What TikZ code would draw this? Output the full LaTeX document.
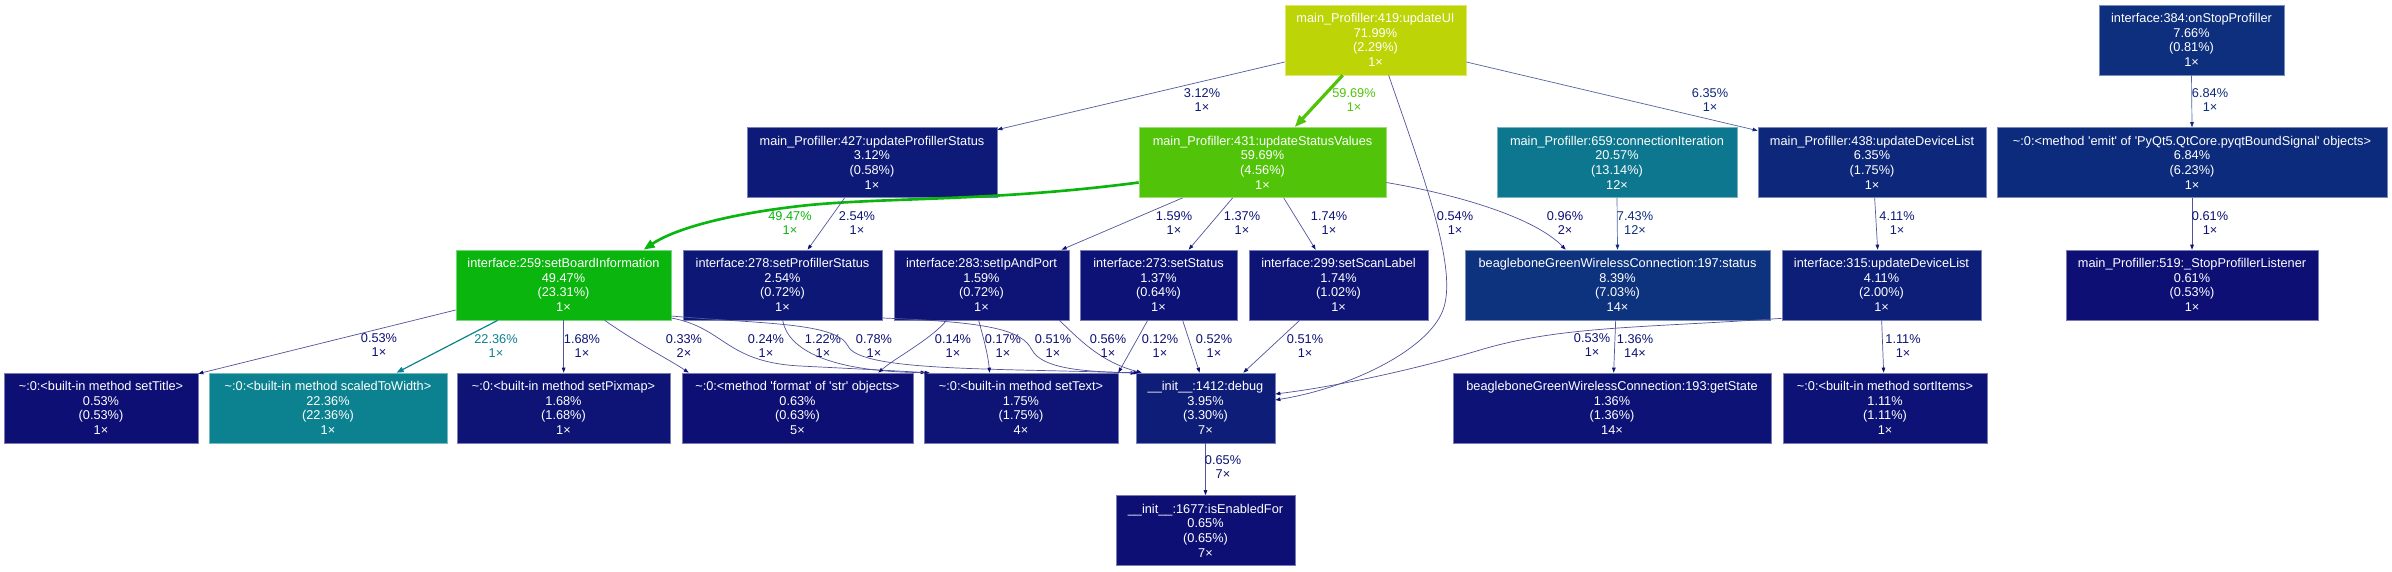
\documentclass[tikz,border=0pt]{standalone}
\usepackage{fontspec}
\setmainfont{Liberation Sans}
\usetikzlibrary{arrows.meta,calc}
\definecolor{cUI}{RGB}{189,213,6}
\definecolor{cSV}{RGB}{81,195,8}
\definecolor{cBI}{RGB}{10,181,13}
\definecolor{cSW}{RGB}{12,130,144}
\definecolor{cCI}{RGB}{12,119,142}
\definecolor{cST}{RGB}{13,50,126}
\definecolor{cOS}{RGB}{13,47,125}
\definecolor{cTA}{RGB}{13,45,125}
\definecolor{cEM}{RGB}{13,43,124}
\definecolor{cDL}{RGB}{13,40,123}
\definecolor{cFO}{RGB}{13,30,120}
\definecolor{cDB}{RGB}{13,29,120}
\definecolor{cTH}{RGB}{13,26,119}
\definecolor{cTF}{RGB}{13,24,118}
\definecolor{cSX}{RGB}{13,20,118}
\definecolor{cOT}{RGB}{13,19,118}
\definecolor{cSN}{RGB}{13,17,117}
\definecolor{cFV}{RGB}{13,15,117}
\newcommand{\gf}{\fontsize{12.75}{14.7}\selectfont}
\newcommand{\tl}{\textasciitilde}
\newcommand{\q}{\textquotesingle}
\begin{document}
\begin{tikzpicture}[x=1pt,y=-1pt,
  box/.style={rectangle, inner sep=0pt, minimum height=70pt, text=white, align=center, font=\gf, line width=0.7pt},
  nb/.style={box, fill=#1, draw=#1!55!white},
  lbl/.style={inner sep=0pt, align=center, font=\gf},
  thin/.style={line width=0.7pt, draw=#1!72!white, -{Triangle[length=5pt,width=3.6pt,color=#1]}},
  thick/.style={line width=#1, -{Triangle[length=12pt,width=9pt]}}]
\fill[white] (0,0) rectangle (2392,571);
\useasboundingbox (0,0) rectangle (2392,571);
% row 1
\node[nb=cUI, minimum width=181pt] (uUI) at (1375.5,40) {main\_Profiller:419:updateUI\\71.99\%\\(2.29\%)\\1×};
\node[nb=cOS, minimum width=185pt] (onStop) at (2191.5,40) {interface:384:onStopProfiller\\7.66\%\\(0.81\%)\\1×};
% row 2
\node[nb=cTH, minimum width=250pt] (uPS) at (872,162.5) {main\_Profiller:427:updateProfillerStatus\\3.12\%\\(0.58\%)\\1×};
\node[nb=cSV, minimum width=247pt] (uSV) at (1262.5,162.5) {main\_Profiller:431:updateStatusValues\\59.69\%\\(4.56\%)\\1×};
\node[nb=cCI, minimum width=240pt] (connIt) at (1617,162.5) {main\_Profiller:659:connectionIteration\\20.57\%\\(13.14\%)\\12×};
\node[nb=cDL, minimum width=228pt] (uDLa) at (1872,162.5) {main\_Profiller:438:updateDeviceList\\6.35\%\\(1.75\%)\\1×};
\node[nb=cEM, minimum width=390pt] (emit) at (2192,162.5) {\tl:0:<method \q emit\q{} of \q PyQt5.QtCore.pyqtBoundSignal\q{} objects>\\6.84\%\\(6.23\%)\\1×};
% row 3
\node[nb=cBI, minimum width=215pt] (sBI) at (563.5,285) {interface:259:setBoardInformation\\49.47\%\\(23.31\%)\\1×};
\node[nb=cTF, minimum width=199pt] (sPS) at (782.5,285) {interface:278:setProfillerStatus\\2.54\%\\(0.72\%)\\1×};
\node[nb=cSX, minimum width=175pt] (sIP) at (981.5,285) {interface:283:setIpAndPort\\1.59\%\\(0.72\%)\\1×};
\node[nb=cOT, minimum width=157pt] (sSt) at (1158.5,285) {interface:273:setStatus\\1.37\%\\(0.64\%)\\1×};
\node[nb=cSX, minimum width=179pt] (sSL) at (1338.5,285) {interface:299:setScanLabel\\1.74\%\\(1.02\%)\\1×};
\node[nb=cST, minimum width=305pt] (status) at (1617.5,285) {beagleboneGreenWirelessConnection:197:status\\8.39\%\\(7.03\%)\\14×};
\node[nb=cFO, minimum width=199pt] (uDLb) at (1881.5,285) {interface:315:updateDeviceList\\4.11\%\\(2.00\%)\\1×};
\node[nb=cFV, minimum width=252pt] (stopL) at (2192,285) {main\_Profiller:519:\_StopProfillerListener\\0.61\%\\(0.53\%)\\1×};
% row 4
\node[nb=cFV, minimum width=194pt] (setTitle) at (101,408) {\tl:0:<built-in method setTitle>\\0.53\%\\(0.53\%)\\1×};
\node[nb=cSW, minimum width=238pt] (scaled) at (328,408) {\tl:0:<built-in method scaledToWidth>\\22.36\%\\(22.36\%)\\1×};
\node[nb=cSX, minimum width=213pt] (setPix) at (563.5,408) {\tl:0:<built-in method setPixmap>\\1.68\%\\(1.68\%)\\1×};
\node[nb=cFV, minimum width=231pt] (format) at (797.5,408) {\tl:0:<method \q format\q{} of \q str\q{} objects>\\0.63\%\\(0.63\%)\\5×};
\node[nb=cSX, minimum width=194pt] (setText) at (1021,408) {\tl:0:<built-in method setText>\\1.75\%\\(1.75\%)\\4×};
\node[nb=cDB, minimum width=139pt] (debug) at (1205.5,408) {\_\_init\_\_:1412:debug\\3.95\%\\(3.30\%)\\7×};
\node[nb=cOT, minimum width=318pt] (getState) at (1612,408) {beagleboneGreenWirelessConnection:193:getState\\1.36\%\\(1.36\%)\\14×};
\node[nb=cOT, minimum width=204pt] (sortItems) at (1885,408) {\tl:0:<built-in method sortItems>\\1.11\%\\(1.11\%)\\1×};
% row 5
\node[nb=cFV, minimum width=179pt] (isEn) at (1205.5,530.5) {\_\_init\_\_:1677:isEnabledFor\\0.65\%\\(0.65\%)\\7×};

% edges
\draw[thin=cTH] ($(uUI.west)+(0,22)$) -- ($(uPS.north east)+(0,2.5)$);
\node[lbl, text=cTH] (l1) at (1202,100) {3.12\%\\1×};
\draw[thick=3.2pt, draw=cSV] ($(uUI.south west)+(58,0)$) -- ($(uSV.north west)+(156,0)$);
\node[lbl, text=cSV] (l2) at (1354,100) {59.69\%\\1×};
\draw[thin=cFV] ($(uUI.south west)+(104,0)$) .. controls (1425,180) and (1458,270) .. (1443,310) .. controls (1428,350) and (1350,388) .. ($(debug.east)+(0,-8)$);
\node[lbl, text=cFV] (l3) at (1455,223) {0.54\%\\1×};
\draw[thin=cDL] ($(uUI.east)+(0,22)$) -- ($(uDLa.north west)+(0,3.5)$);
\node[lbl, text=cDL] (l4) at (1710,100) {6.35\%\\1×};
\draw[thin=cEM] (onStop.south) -- (emit.north);
\node[lbl, text=cEM] (l5) at (2210,100) {6.84\%\\1×};
\draw[thin=cFV] (emit.south) -- (stopL.north);
\node[lbl, text=cFV] (l6) at (2210,223) {0.61\%\\1×};
\draw[thick=2.64pt, draw=cBI, -{Triangle[length=11pt,width=8.5pt]}] ($(uSV.west)+(0,20)$) .. controls (990,202) and (880,197) .. (800,206) .. controls (730,214) and (676,228) .. ($(sBI.north west)+(188,0)$);
\node[lbl, text=cBI] (l7) at (790,223) {49.47\%\\1×};
\draw[thin=cTF] ($(uPS.south west)+(98,0)$) -- ($(sPS.north west)+(125,0)$);
\node[lbl, text=cTF] (l8) at (857,223) {2.54\%\\1×};
\draw[thin=cSX] ($(uSV.south west)+(44,0)$) -- ($(sIP.north west)+(168,0)$);
\node[lbl, text=cSX] (l9) at (1174,223) {1.59\%\\1×};
\draw[thin=cOT] ($(uSV.south west)+(94,0)$) -- ($(sSt.north west)+(109,0)$);
\node[lbl, text=cOT] (l10) at (1242,223) {1.37\%\\1×};
\draw[thin=cSX] ($(uSV.south west)+(145,0)$) -- ($(sSL.north west)+(67,0)$);
\node[lbl, text=cSX] (l11) at (1329,223) {1.74\%\\1×};
\draw[thin=cSN] ($(uSV.east)+(0,20)$) .. controls (1460,195) and (1535,218) .. ($(status.north west)+(101,0)$);
\node[lbl, text=cSN] (l12) at (1565,223) {0.96\%\\2×};
\draw[thin=cTA] (connIt.south) -- (status.north);
\node[lbl, text=cTA] (l13) at (1635,223) {7.43\%\\12×};
\draw[thin=cFO] ($(uDLa.south west)+(117,0)$) -- ($(uDLb.north west)+(96,0)$);
\node[lbl, text=cFO] (l14) at (1897,223) {4.11\%\\1×};
\draw[thin=cOT] ($(status.south west)+(151,0)$) -- ($(getState.north west)+(161,0)$);
\node[lbl, text=cOT] (l15) at (1635,346) {1.36\%\\14×};
\draw[thin=cFV] ($(uDLb.south west)+(0,-2)$) .. controls (1640,328) and (1560,326) .. (1480,350) .. controls (1420,368) and (1340,386) .. ($(debug.east)+(0,-14)$);
\node[lbl, text=cFV] (l16) at (1592,345) {0.53\%\\1×};
\draw[thin=cOT] ($(uDLb.south west)+(100,0)$) -- ($(sortItems.north west)+(101,0)$);
\node[lbl, text=cOT] (l17) at (1903,346) {1.11\%\\1×};
\draw[thin=cSN] (debug.south) -- (isEn.north);
\node[lbl, text=cSN] (l18) at (1223,467) {0.65\%\\7×};
\draw[thin=cFV] ($(sBI.west)+(0,25)$) -- ($(setTitle.north east)+(0,1)$);
\node[lbl, text=cFV] (l19) at (379,345) {0.53\%\\1×};
\draw[line width=1.19pt, draw=cSW, -{Triangle[length=7pt,width=5.5pt]}] ($(sBI.south west)+(42,0)$) -- ($(scaled.north west)+(188,0)$);
\node[lbl, text=cSW] (l20) at (496,346) {22.36\%\\1×};
\draw[thin=cSX] ($(sBI.south west)+(108,0)$) -- ($(setPix.north west)+(107,0)$);
\node[lbl, text=cSX] (l21) at (582,346) {1.68\%\\1×};
\draw[thin=cFV] ($(sBI.south west)+(149,0)$) .. controls (640,345) and (670,360) .. ($(format.north west)+(7,0)$);
\node[lbl, text=cFV] (l22) at (684,346) {0.33\%\\2×};
\draw[thin=cFV] ($(sBI.east)+(0,33)$) .. controls (725,328) and (725,362) .. (800,366) .. controls (860,369) and (900,371) .. ($(setText.north west)+(2,0)$);
\node[lbl, text=cFV] (l23) at (766,346) {0.24\%\\1×};
\draw[thin=cOT] ($(sPS.south west)+(100,0)$) .. controls (788,350) and (830,372) .. ($(setText.north west)+(6,0)$);
\node[lbl, text=cOT] (l24) at (823,346) {1.22\%\\1×};
\draw[thin=cSN] ($(sBI.east)+(0,31)$) .. controls (760,324) and (836,322) .. (848,346) .. controls (860,372) and (1000,368) .. ($(debug.north west)+(0,0.5)$);
\node[lbl, text=cSN] (l25) at (874,346) {0.78\%\\1×};
\draw[thin=cFV] ($(sIP.south west)+(53,0)$) .. controls (930,340) and (895,358) .. ($(format.north east)+(-35,0)$);
\node[lbl, text=cFV] (l26) at (953,346) {0.14\%\\1×};
\draw[thin=cFV] ($(sIP.south west)+(85,0)$) .. controls (984,340) and (988,355) .. ($(setText.north west)+(66,0)$);
\node[lbl, text=cFV] (l27) at (1003,346) {0.17\%\\1×};
\draw[thin=cFV] ($(sPS.east)+(0,33)$) .. controls (990,322) and (1022,330) .. (1032,350) .. controls (1042,368) and (1080,372) .. ($(debug.north west)+(3,0)$);
\node[lbl, text=cFV] (l28) at (1053,346) {0.51\%\\1×};
\draw[thin=cFV] ($(sIP.south east)+(-10,0)$) .. controls (1078,338) and (1100,362) .. ($(debug.north west)+(6,0)$);
\node[lbl, text=cFV] (l29) at (1108,346) {0.56\%\\1×};
\draw[thin=cFV] ($(sSt.south west)+(68,0)$) -- ($(setText.north east)+(0,0)$);
\node[lbl, text=cFV] (l30) at (1160,346) {0.12\%\\1×};
\draw[thin=cFV] ($(sSt.south west)+(103,0)$) -- ($(debug.north west)+(64,0)$);
\node[lbl, text=cFV] (l31) at (1214,346) {0.52\%\\1×};
\draw[thin=cFV] ($(sSL.south west)+(51,0)$) -- ($(debug.north east)+(-32,0)$);
\node[lbl, text=cFV] (l32) at (1305,346) {0.51\%\\1×};
\end{tikzpicture}
\end{document}
